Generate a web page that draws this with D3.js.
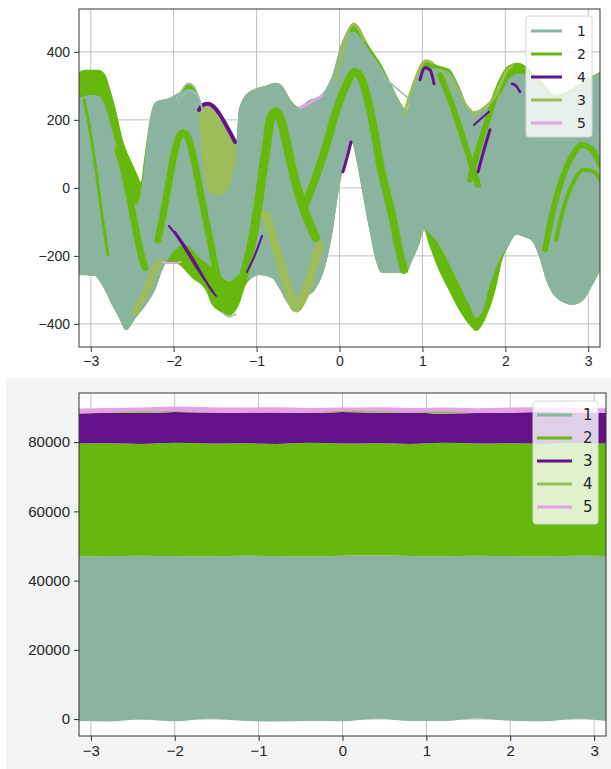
<!DOCTYPE html>
<html>
<head>
<meta charset="utf-8">
<script src="https://cdn.jsdelivr.net/npm/d3@7"></script>
<style>
  body { margin: 0; background: #ffffff; }
  svg { display: block; font-family: "DejaVu Sans", sans-serif; }
</style>
</head>
<body>
<svg id="chart" width="611" height="769"></svg>
<script>
// ---------- shared ----------
const palette = ["#8bb4a0", "#66b80c", "#63128a", "#9dbd5a", "#e4a2e4"];
const xTicks = [-3, -2, -1, 0, 1, 2, 3];

// ---------- Andrews curves, upper panel ----------
const topLegend = ["1", "2", "4", "3", "5"];
const topYTicks = [-400, -200, 0, 200, 400];

// outer envelope of all curves, [t, f(t)]
const allUpper = [[-3.142,341],[-3.07,347],[-2.913,347],[-2.829,335],[-2.769,294],[-2.696,229],[-2.612,141],[-2.491,68],[-2.431,35],[-2.395,18],[-2.358,82],[-2.322,147],[-2.274,215],[-2.213,253],[-2.044,265],[-1.924,282],[-1.815,309],[-1.731,291],[-1.671,241],[-1.61,241],[-1.502,229],[-1.381,191],[-1.272,138],[-1.248,132],[-1.212,232],[-1.092,282],[-0.887,300],[-0.766,309],[-0.694,300],[-0.573,253],[-0.489,238],[-0.356,259],[-0.247,268],[-0.09,329],[0.018,421],[0.103,465],[0.175,482],[0.223,471],[0.356,418],[0.513,359],[0.633,300],[0.73,253],[0.814,229],[0.874,300],[0.959,350],[1.043,374],[1.2,359],[1.321,350],[1.441,300],[1.562,232],[1.598,224],[1.719,232],[1.888,253],[1.96,300],[2.045,350],[2.129,365],[2.25,356],[2.419,318],[2.6,274],[2.781,288],[2.962,318],[3.142,341]];
const allLower = [[-3.142,-256],[-2.95,-259],[-2.865,-285],[-2.745,-344],[-2.66,-382],[-2.576,-418],[-2.455,-382],[-2.334,-344],[-2.213,-294],[-2.141,-244],[-2.093,-221],[-2.02,-218],[-1.936,-226],[-1.779,-265],[-1.61,-303],[-1.538,-344],[-1.454,-362],[-1.333,-376],[-1.212,-344],[-1.128,-285],[-1.055,-265],[-0.971,-256],[-0.815,-265],[-0.73,-294],[-0.646,-332],[-0.525,-362],[-0.404,-321],[-0.296,-300],[-0.175,-232],[-0.09,-138],[-0.018,-21],[0.066,82],[0.151,132],[0.211,74],[0.271,-6],[0.356,-118],[0.44,-215],[0.513,-250],[0.802,-250],[0.874,-215],[0.959,-168],[1.019,-126],[1.08,-168],[1.2,-244],[1.321,-303],[1.478,-374],[1.598,-412],[1.646,-421],[1.767,-382],[1.888,-294],[1.96,-215],[2.045,-168],[2.129,-138],[2.25,-147],[2.322,-156],[2.413,-206],[2.497,-274],[2.618,-324],[2.811,-344],[2.932,-332],[3.053,-285],[3.142,-244]];

// envelope of class "1"
const class1Upper = [[-3.142,265],[-2.986,274],[-2.889,268],[-2.817,235],[-2.745,171],[-2.672,112],[-2.6,47],[-2.527,-6],[-2.443,-50],[-2.383,9],[-2.334,112],[-2.286,206],[-2.213,253],[-2.044,265],[-1.924,282],[-1.815,290],[-1.731,282],[-1.683,244],[-1.647,200],[-1.61,160],[-1.502,150],[-1.381,150],[-1.272,132],[-1.248,132],[-1.212,232],[-1.092,282],[-0.887,300],[-0.766,309],[-0.694,300],[-0.573,253],[-0.489,238],[-0.356,259],[-0.247,268],[-0.09,329],[0.018,415],[0.103,455],[0.175,460],[0.223,450],[0.356,405],[0.513,350],[0.633,295],[0.73,250],[0.814,229],[0.874,290],[0.959,335],[1.043,355],[1.2,350],[1.321,340],[1.441,295],[1.562,232],[1.598,224],[1.719,232],[1.888,253],[1.96,285],[2.045,320],[2.129,335],[2.25,335],[2.419,310],[2.6,265],[2.781,280],[2.962,315],[3.142,338]];
const class1Lower = [[-3.142,-256],[-2.95,-259],[-2.865,-285],[-2.745,-344],[-2.66,-382],[-2.576,-418],[-2.455,-382],[-2.334,-344],[-2.213,-294],[-2.141,-244],[-2.093,-221],[-1.984,-182],[-1.864,-168],[-1.683,-206],[-1.502,-241],[-1.333,-276],[-1.2,-256],[-1.128,-271],[-1.055,-265],[-0.971,-256],[-0.815,-265],[-0.73,-294],[-0.646,-332],[-0.525,-362],[-0.404,-321],[-0.296,-300],[-0.175,-232],[-0.09,-138],[-0.018,-21],[0.066,82],[0.151,132],[0.211,74],[0.271,-6],[0.356,-118],[0.44,-215],[0.513,-250],[0.802,-250],[0.874,-215],[0.959,-168],[1.019,-126],[1.116,-141],[1.2,-168],[1.405,-265],[1.562,-344],[1.646,-382],[1.731,-359],[1.803,-294],[1.924,-215],[2.045,-168],[2.129,-138],[2.25,-147],[2.322,-156],[2.413,-206],[2.497,-274],[2.618,-324],[2.811,-344],[2.932,-332],[3.053,-285],[3.142,-244]];

// class "3" patch under the class "4" arc
const class3PatchUpper = [[-1.695,224],[-1.61,241],[-1.514,232],[-1.417,209],[-1.321,168],[-1.248,132]];
const class3PatchLower = [[-1.695,200],[-1.61,9],[-1.514,-21],[-1.417,-21],[-1.321,9],[-1.248,82]];

// individual curves that show above the class "1" fill
const class2Curves = [
  [[-3.082,259],[-3.01,171],[-2.937,53],[-2.865,-79],[-2.793,-197]],
  [[-2.672,112],[-2.588,38],[-2.491,-79],[-2.407,-182],[-2.346,-235]],
  [[-2.189,-153],[-2.105,-50],[-2.02,68],[-1.948,141],[-1.888,162],[-1.815,141],[-1.743,68],[-1.671,-21],[-1.598,-109],[-1.526,-197],[-1.454,-285],[-1.381,-344]],
  [[-1.297,-329],[-1.2,-285],[-1.104,-212],[-1.019,-109],[-0.947,9],[-0.887,112],[-0.827,206],[-0.766,224],[-0.706,200],[-0.633,126],[-0.561,47],[-0.476,-29],[-0.38,-94],[-0.283,-147]],
  [[-0.416,-50],[-0.296,24],[-0.175,112],[-0.054,215],[0.066,294],[0.187,341],[0.271,318],[0.356,244],[0.428,156],[0.489,68],[0.561,-6],[0.633,-79],[0.706,-168],[0.778,-241]],
  [[1.212,332],[1.357,244],[1.478,156],[1.574,82],[1.671,9]],
  [[1.574,24],[1.671,112],[1.767,185],[1.864,259],[1.96,318],[2.057,353],[2.153,359],[2.25,347]],
  [[2.479,-182],[2.563,-79],[2.66,9],[2.781,82],[2.925,126],[3.046,112],[3.142,68]],
  [[2.612,-153],[2.696,-65],[2.805,9],[2.95,53],[3.07,47],[3.142,24]]
];
const class2Widths = [3, 7, 7, 9, 8, 6, 6, 6, 4];

const class3Curves = [
  [[-2.467,-365],[-2.382,-329],[-2.298,-285],[-2.226,-241],[-2.165,-218]],
  [[-0.887,-79],[-0.778,-168],[-0.669,-256],[-0.585,-321],[-0.525,-353],[-0.452,-329],[-0.368,-276],[-0.296,-218],[-0.235,-168]],
  [[-0.042,318],[0.03,400],[0.103,459],[0.175,482],[0.223,471],[0.296,435]],
  [[0.778,215],[0.85,274],[0.923,324],[0.983,359],[1.043,374],[1.116,368]],
  [[1.212,347],[1.333,318],[1.429,282],[1.526,244],[1.598,224]],
  [[1.622,215],[1.743,235],[1.864,265],[1.936,303],[2.008,341],[2.081,359]]
];
const class3Widths = [7, 9, 3, 3, 2.5, 3];

const class4Curves = [
  [[-1.695,229],[-1.647,244],[-1.586,247],[-1.514,238],[-1.441,215],[-1.369,185],[-1.297,153],[-1.26,135]],
  [[-2.057,-112],[-1.948,-147],[-1.827,-194],[-1.707,-241],[-1.61,-276],[-1.526,-306]],
  [[-1.984,-129],[-1.864,-171],[-1.743,-218],[-1.647,-259],[-1.562,-294],[-1.49,-318]],
  [[-1.116,-247],[-1.019,-197],[-0.935,-141]],
  [[0.042,47],[0.09,88],[0.139,135]],
  [[0.971,318],[1.031,353],[1.092,347],[1.14,306]],
  [[1.622,185],[1.719,206],[1.803,224]],
  [[1.671,47],[1.743,112],[1.815,171]],
  [[2.081,306],[2.129,300],[2.177,282]]
];
const class4Widths = [4, 2, 2, 2, 3, 3, 2, 3, 2.5];

const class5Curves = [
  [[-0.476,235],[-0.38,247],[-0.296,259],[-0.211,271]],
  [[-2.141,-218],[-2.069,-221],[-1.984,-221],[-1.912,-218]]
];
const class5Widths = [3, 2];

const class1Curves = [
  [[-1.972,259],[-1.9,288],[-1.827,306],[-1.767,300],[-1.707,274],[-1.659,238]],
  [[-1.948,247],[-1.876,274],[-1.815,288],[-1.755,282],[-1.695,259],[-1.647,224]],
  [[0.513,329],[0.669,297],[0.838,262]],
  [[-1.417,-365],[-1.333,-379],[-1.248,-371]]
];

// ---------- Andrews curves, lower panel ----------
const bottomLegend = ["1", "2", "3", "4", "5"];
const bottomYTicks = [0, 20000, 40000, 60000, 80000];
const bandT = [-3.1416,-2.8,-2.4,-2.0,-1.6,-1.2,-0.8,-0.4,0,0.4,0.8,1.2,1.6,2.0,2.4,2.8,3.1416];
const band1Low  = [-600,-700,-100,-650,100,-500,-700,-600,-650,100,-550,-600,150,-500,-650,100,-600];
const band1High = [47000,47100,47200,47100,47000,47200,47100,47000,47200,47300,47100,47000,47200,47100,47000,47200,47100];
const band2High = [79600,79700,79500,79800,79600,79700,79500,79800,79600,79700,79500,79800,79600,79700,79500,79800,79600];
const band3High = [88300,88500,88400,88700,88600,88500,88600,88400,88700,88500,88600,88300,88400,88500,88700,88500,88400];
const band4High = [88300,88500,88900,88900,88600,88500,88600,88400,89100,89000,88600,88900,88400,88500,88700,88500,88400];
const band5High = [89700,89900,90000,90300,90100,90000,90100,89900,90000,90100,89900,90000,89800,90000,90100,89900,89800];

// ---------- drawing ----------
const svg = d3.select("#chart");
let clipCount = 0;

// lower figure background
svg.append("rect").attr("x", 6).attr("y", 378).attr("width", 605).attr("height", 391).attr("fill", "#f4f4f4");

function drawAxes(g, x, y, yTicks, fontSize, yFormat) {
  const [x0, x1] = x.range();
  const [y0, y1] = y.range();
  g.append("g").attr("transform", `translate(0,${y0})`)
    .call(d3.axisBottom(x).tickValues(xTicks).tickSize(5).tickPadding(4).tickFormat(d3.format("d")))
    .call(a => a.select(".domain").remove())
    .call(a => a.selectAll("line").attr("stroke", "#333"))
    .call(a => a.selectAll("text").attr("font-size", fontSize).attr("fill", "#262626"));
  g.append("g").attr("transform", `translate(${x0},0)`)
    .call(d3.axisLeft(y).tickValues(yTicks).tickSize(5).tickPadding(4).tickFormat(yFormat))
    .call(a => a.select(".domain").remove())
    .call(a => a.selectAll("line").attr("stroke", "#333"))
    .call(a => a.selectAll("text").attr("font-size", fontSize).attr("fill", "#262626"));
  g.append("rect").attr("x", x0).attr("y", y1).attr("width", x1 - x0).attr("height", y0 - y1)
    .attr("fill", "none").attr("stroke", "#333").attr("stroke-width", 1);
}

function drawGrid(g, x, y, yTicks) {
  const [x0, x1] = x.range();
  const [y0, y1] = y.range();
  g.selectAll(null).data(xTicks).join("line")
    .attr("x1", d => x(d)).attr("x2", d => x(d)).attr("y1", y0).attr("y2", y1)
    .attr("stroke", "#b0b0b0").attr("stroke-width", 0.8);
  g.selectAll(null).data(yTicks).join("line")
    .attr("y1", d => y(d)).attr("y2", d => y(d)).attr("x1", x0).attr("x2", x1)
    .attr("stroke", "#b0b0b0").attr("stroke-width", 0.8);
}

function plotClip(x, y) {
  const id = "clip" + (clipCount++);
  svg.append("clipPath").attr("id", id).append("rect")
    .attr("x", x.range()[0]).attr("y", y.range()[1])
    .attr("width", x.range()[1] - x.range()[0]).attr("height", y.range()[0] - y.range()[1]);
  return id;
}

// region between an upper and a lower [t,v] boundary (boundaries may use different t samples)
function fillBetween(g, x, y, upper, lower, color) {
  const id = "clip" + (clipCount++);
  const above = d3.area().curve(d3.curveMonotoneX)
    .x(d => x(d[0])).y0(y.range()[1] - 5).y1(d => y(d[1]));
  const below = d3.area().curve(d3.curveMonotoneX)
    .x(d => x(d[0])).y0(y.range()[0] + 5).y1(d => y(d[1]));
  svg.append("clipPath").attr("id", id).append("path").attr("d", above(lower));
  g.append("path").attr("d", below(upper)).attr("fill", color).attr("clip-path", `url(#${id})`);
}

function drawCurves(g, x, y, curves, widths, color) {
  const line = d3.line().curve(d3.curveMonotoneX).x(d => x(d[0])).y(d => y(d[1]));
  g.selectAll(null).data(curves).join("path")
    .attr("d", line).attr("fill", "none").attr("stroke", color)
    .attr("stroke-width", (d, i) => Array.isArray(widths) ? widths[i] : widths)
    .attr("stroke-linecap", "round").attr("stroke-linejoin", "round");
}

function drawLegend(g, labels, x0, y0, w, h, lineX0, lineX1, textX, rowY0, rowStep, fontSize) {
  g.append("rect").attr("x", x0).attr("y", y0).attr("width", w).attr("height", h).attr("rx", 3)
    .attr("fill", "#ffffff").attr("fill-opacity", 0.8).attr("stroke", "#d6d6d6");
  labels.forEach((lab, i) => {
    const yy = rowY0 + i * rowStep;
    g.append("line").attr("x1", lineX0).attr("x2", lineX1).attr("y1", yy).attr("y2", yy)
      .attr("stroke", palette[i]).attr("stroke-width", 3);
    g.append("text").attr("x", textX).attr("y", yy).attr("dy", "0.36em")
      .attr("font-size", fontSize).attr("fill", "#262626").text(lab);
  });
}

// ===== upper panel =====
{
  const x = d3.scaleLinear().domain([-Math.PI, Math.PI]).range([79, 600]);
  const y = d3.scaleLinear().domain([-468, 526]).range([347, 9]);
  const colorOf = lab => palette[topLegend.indexOf(lab)];
  const root = svg.append("g");
  drawGrid(root, x, y, topYTicks);
  const plot = root.append("g").attr("clip-path", `url(#${plotClip(x, y)})`);
  fillBetween(plot, x, y, allUpper, allLower, colorOf("2"));
  fillBetween(plot, x, y, class1Upper, class1Lower, colorOf("1"));
  fillBetween(plot, x, y, class3PatchUpper, class3PatchLower, colorOf("3"));
  drawCurves(plot, x, y, class2Curves, class2Widths, colorOf("2"));
  drawCurves(plot, x, y, class3Curves, class3Widths, colorOf("3"));
  drawCurves(plot, x, y, class4Curves, class4Widths, colorOf("4"));
  drawCurves(plot, x, y, class5Curves, class5Widths, colorOf("5"));
  drawCurves(plot, x, y, class1Curves, 1.5, "#9dbcb0");
  drawAxes(root, x, y, topYTicks, 14, d3.format("d"));
  drawLegend(root, topLegend, 526, 16, 66, 121, 531, 562, 577, 31, 23, 14);
}

// ===== lower panel =====
{
  const x = d3.scaleLinear().domain([-Math.PI, Math.PI]).range([79, 606]);
  const y = d3.scaleLinear().domain([-4900, 94200]).range([736, 393]);
  const root = svg.append("g");
  root.append("rect").attr("x", 79).attr("y", 393).attr("width", 527).attr("height", 343).attr("fill", "#ffffff");
  drawGrid(root, x, y, bottomYTicks);
  const plot = root.append("g").attr("clip-path", `url(#${plotClip(x, y)})`);
  const band = (lo, hi) => bandT.map((t, i) => ({ t, lo: lo[i], hi: hi[i] }));
  const area = d3.area().curve(d3.curveMonotoneX).x(d => x(d.t)).y0(d => y(d.lo)).y1(d => y(d.hi));
  const layers = [
    [band1Low, band1High, 0],
    [band1High, band2High, 1],
    [band2High, band3High, 2],
    [band3High, band5High, 4],
    [band3High, band4High, 3]
  ];
  layers.forEach(([lo, hi, c]) => {
    plot.append("path").attr("d", area(band(lo, hi))).attr("fill", palette[c]);
  });
  drawAxes(root, x, y, bottomYTicks, 15, d3.format("d"));
  drawLegend(root, bottomLegend, 533, 401, 65, 123, 537, 572, 583, 415, 23, 15);
}
</script>
</body>
</html>
